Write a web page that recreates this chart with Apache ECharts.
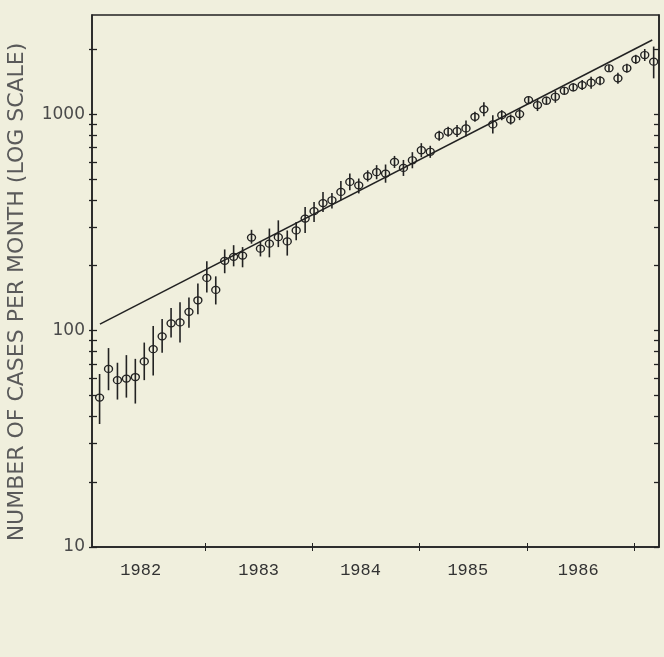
<!DOCTYPE html>
<html>
<head>
<meta charset="utf-8">
<script src="https://cdn.jsdelivr.net/npm/echarts@6/dist/echarts.min.js"></script>
<style>
html,body{margin:0;padding:0;background:#f0efdd}
#chart{width:664px;height:657px}
</style>
</head>
<body>
<div id="chart"></div>
<script>
// monthly cases, jan 1982 onwards
var startYear = 1982;
var cases = [49,66.5,59,60,61,72,82,94,108,109,122,138,
    175,154,210,219,222,269,239,252,270,258,290,329,
    356,388,400,437,486,469,517,539,531,601,564,612,
    681,670,795,829,835,859,972,1052,896,989,944,1000,
    1161,1101,1153,1203,1282,1330,1362,1397,1427,1629,1463,1629,
    1791,1875,1746];
var lower = [37,53,48,49,46,59,62,79,93,88,103,119,
    150,132,184,198,196,252,220,218,243,222,261,282,
    317,353,366,400,445,430,488,500,482,564,518,562,
    632,628,753,786,783,789,921,977,814,937,895,938,
    1119,1033,1104,1128,1228,1274,1291,1311,1360,1570,1380,1553,
    1707,1759,1463];
var upper = [63,83,71,77,74,88,105,113,127,135,142,165,
    209,178,237,248,243,292,258,296,323,290,317,372,
    393,437,432,491,531,504,550,581,585,641,614,667,
    734,714,838,874,890,935,1025,1133,987,1043,996,1066,
    1205,1174,1204,1282,1338,1389,1437,1489,1497,1691,1551,1709,
    1879,1999,2051];

// fitted exponential line (end points)
var fitYears = [1982.02, 1987.17];
var fitCases = [107, 2200];

var yearLabels = ['1982', '1983', '1984', '1985', '1986'];
var yearLabelPos = [1982.4, 1983.5, 1984.45, 1985.45, 1986.48];
var yearTicks = [1983, 1984, 1985, 1986, 1987];
var yTicks = [10,20,30,40,50,60,70,80,90,100,200,300,400,500,600,700,800,900,1000,2000];
var yLabels = [10, 100, 1000];

var xMin = 1981.946, xMax = 1987.233;
var yMin = 10, yMax = 2870;

var monthX = cases.map(function (v, i) { return startYear + (i + 0.2) / 12; });

var myChart = echarts.init(document.getElementById('chart'));

var ink = '#222';

var option = {
    backgroundColor: '#f0efdd',
    animation: false,
    graphic: [{
        type: 'text',
        x: 17, y: 292,
        rotation: Math.PI / 2,
        style: {
            text: 'NUMBER OF CASES PER MONTH (LOG SCALE)',
            fontFamily: 'DejaVu Sans', fontSize: 22, fill: '#5a5a5a',
            align: 'center', verticalAlign: 'middle'
        }
    }],
    grid: {
        left: 92, right: 5, top: 15, bottom: 110,
        show: true, borderColor: ink, borderWidth: 1.5, backgroundColor: 'transparent'
    },
    xAxis: [
        {
            type: 'value', min: xMin, max: xMax, position: 'bottom',
            axisLine: { show: true, lineStyle: { color: ink, width: 1.5 } },
            axisTick: { show: true, inside: true, length: 4, customValues: yearTicks, lineStyle: { color: ink } },
            axisLabel: {
                customValues: yearLabelPos,
                formatter: function (v) {
                    var i = yearLabelPos.indexOf(v);
                    return i >= 0 ? yearLabels[i] : '';
                },
                fontFamily: 'Liberation Mono', fontSize: 17, color: '#333', margin: 15
            },
            splitLine: { show: false }
        },
        {
            type: 'value', min: xMin, max: xMax, position: 'bottom',
            axisLine: { show: false },
            axisTick: { show: true, inside: false, length: 4, customValues: yearTicks, lineStyle: { color: ink } },
            axisLabel: { show: false },
            splitLine: { show: false }
        }
    ],
    yAxis: [
        {
            type: 'log', logBase: 10, min: yMin, max: yMax, position: 'left',
            axisLine: { show: true, lineStyle: { color: ink, width: 1.5 } },
            axisTick: { show: true, inside: true, length: 5, customValues: yTicks, lineStyle: { color: ink, width: 1.3 } },
            axisLabel: {
                customValues: yLabels,
                formatter: function (v) { return String(Math.round(v)); },
                fontFamily: 'DejaVu Sans', fontSize: 17, color: '#4a4a4a', margin: 7
            },
            splitLine: { show: false }
        },
        {
            type: 'log', logBase: 10, min: yMin, max: yMax, position: 'left',
            axisLine: { show: false },
            axisTick: { show: true, inside: false, length: 3, customValues: yTicks, lineStyle: { color: ink, width: 1.3 } },
            axisLabel: { show: false },
            splitLine: { show: false }
        },
        {
            type: 'log', logBase: 10, min: yMin, max: yMax, position: 'right',
            axisLine: { show: true, lineStyle: { color: ink, width: 1.5 } },
            axisTick: { show: true, inside: true, length: 5, customValues: yTicks, lineStyle: { color: ink, width: 1.3 } },
            axisLabel: { show: false },
            splitLine: { show: false }
        }
    ],
    series: [
        {
            // fitted line
            type: 'line',
            data: fitYears.map(function (x, i) { return [x, fitCases[i]]; }),
            symbol: 'none',
            lineStyle: { color: ink, width: 1.5 },
            z: 2
        },
        {
            // error bars
            type: 'custom',
            data: cases.map(function (v, i) { return [monthX[i], lower[i], upper[i]]; }),
            encode: { x: 0, y: [1, 2] },
            renderItem: function (params, api) {
                var x = api.value(0);
                var lo = api.coord([x, api.value(1)]);
                var hi = api.coord([x, api.value(2)]);
                return {
                    type: 'line',
                    shape: { x1: lo[0], y1: lo[1], x2: hi[0], y2: hi[1] },
                    style: { stroke: ink, lineWidth: 1.6 }
                };
            },
            z: 3
        },
        {
            type: 'scatter',
            data: cases.map(function (v, i) { return [monthX[i], v]; }),
            symbol: 'circle',
            symbolSize: [8, 7],
            itemStyle: { color: 'rgba(0,0,0,0)', borderColor: ink, borderWidth: 1.3, opacity: 1 },
            z: 4
        }
    ]
};
myChart.setOption(option);
</script>
</body>
</html>
